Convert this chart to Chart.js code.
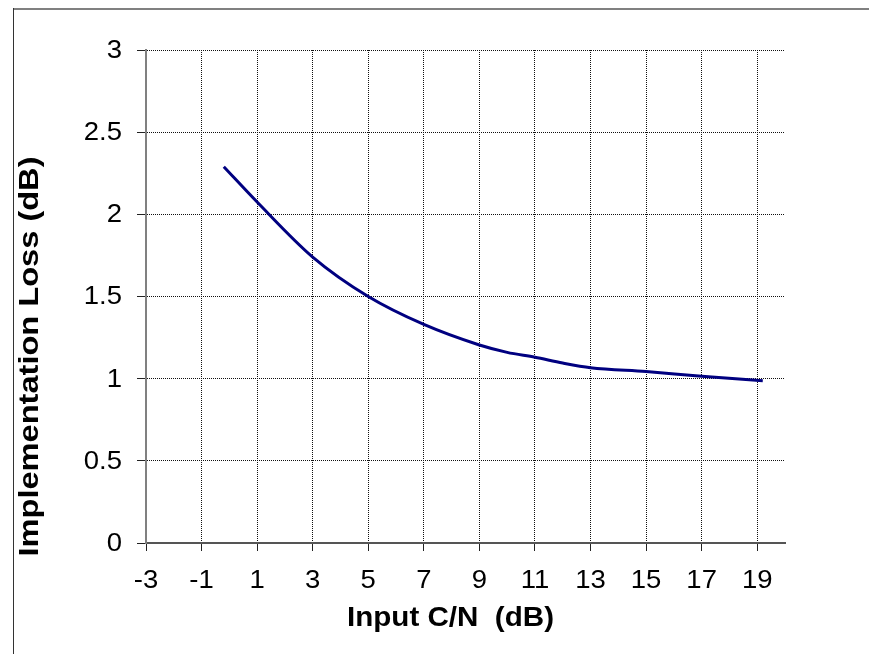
<!DOCTYPE html>
<html>
<head>
<meta charset="utf-8">
<script src="https://cdn.jsdelivr.net/npm/chart.js@4/dist/chart.umd.min.js"></script>
<style>
  html, body { margin: 0; padding: 0; background: #fff; }
  #wrap { position: relative; width: 869px; height: 654px; }
</style>
</head>
<body>
<div id="wrap"><canvas id="chart" width="869" height="654"></canvas></div>
<script>
// Input C/N (dB) vs implementation loss (dB)
const cnValues = [-0.2, 1, 3, 5, 7, 9, 10, 11, 12, 13, 15, 17, 19.2];
const lossValues = [2.29, 2.075, 1.74, 1.5, 1.33, 1.205, 1.16, 1.13, 1.095, 1.067, 1.043, 1.015, 0.988];

// axis ticks
const xTickValues = [-3, -1, 1, 3, 5, 7, 9, 11, 13, 15, 17, 19];
const yTickValues = [0, 0.5, 1, 1.5, 2, 2.5, 3];
const xMin = -3, xMax = 20;
const yMin = 0, yMax = 3;

const xTitle = 'Input C/N  (dB)';
const yTitle = 'Implementation Loss (dB)';

const points = cnValues.map(function(v, i) { return { x: v, y: lossValues[i] }; });

const FONT = '"Liberation Sans", Arial, sans-serif';

// text drawn a bit wider than the font, like the original
function wideText(ctx, text, x, y, sx, angle) {
  ctx.save();
  ctx.translate(x, y);
  if (angle) ctx.rotate(angle);
  ctx.scale(sx, 1);
  ctx.fillText(text, 0, 0);
  ctx.restore();
}

// Frame, tick labels and axis titles
const decorPlugin = {
  id: 'decor',
  beforeDraw: function(chart) {
    const ctx = chart.ctx;
    ctx.save();
    ctx.strokeStyle = '#808080';
    ctx.lineWidth = 2;
    ctx.beginPath();
    ctx.moveTo(13, 9);
    ctx.lineTo(chart.width, 9);
    ctx.stroke();
    ctx.strokeStyle = '#333';
    ctx.lineWidth = 1;
    ctx.beginPath();
    ctx.moveTo(13.5, 8);
    ctx.lineTo(13.5, chart.height);
    ctx.stroke();
    ctx.restore();
  },
  afterDraw: function(chart) {
    const ctx = chart.ctx;
    const area = chart.chartArea;
    const xs = chart.scales.x, ys = chart.scales.y;
    ctx.save();
    ctx.fillStyle = '#000';

    // tick labels
    ctx.font = '25px ' + FONT;
    ctx.textBaseline = 'middle';
    ctx.textAlign = 'right';
    ys.ticks.forEach(function(t) {
      wideText(ctx, String(t.value), area.left - 24, ys.getPixelForValue(t.value) + 1, 1.1);
    });
    ctx.textAlign = 'center';
    xs.ticks.forEach(function(t) {
      wideText(ctx, String(t.value), xs.getPixelForValue(t.value), area.bottom + 38, 1.1);
    });

    // axis titles
    ctx.font = 'bold 27px ' + FONT;
    const xsx = 207 / ctx.measureText(xTitle).width;
    wideText(ctx, xTitle, (area.left + area.right) / 2 - 15, area.bottom + 76, xsx);
    const ysx = 400 / ctx.measureText(yTitle).width;
    wideText(ctx, yTitle, area.left - 115, (area.top + area.bottom) / 2 + 60, ysx, -Math.PI / 2);
    ctx.restore();
  }
};

const ctx = document.getElementById('chart').getContext('2d');
new Chart(ctx, {
  type: 'line',
  data: {
    datasets: [{
      data: points,
      borderColor: '#000080',
      borderWidth: 3,
      pointRadius: 0,
      fill: false,
      cubicInterpolationMode: 'monotone'
    }]
  },
  options: {
    responsive: false,
    animation: false,
    layout: { padding: { left: 0, top: 50, right: 84, bottom: 0 } },
    plugins: { legend: { display: false }, tooltip: { enabled: false } },
    scales: {
      x: {
        type: 'linear',
        min: xMin,
        max: xMax,
        afterFit: function(scale) { scale.height = 111; },
        afterBuildTicks: function(scale) {
          scale.ticks = xTickValues.map(function(v) { return { value: v }; });
        },
        ticks: { display: false },
        grid: { color: '#111', tickColor: '#222', tickLength: 8, lineWidth: 1 },
        border: { display: true, color: '#555', width: 2, dash: [1, 1] }
      },
      y: {
        min: yMin,
        max: yMax,
        afterFit: function(scale) { scale.width = 146; },
        afterBuildTicks: function(scale) {
          scale.ticks = yTickValues.map(function(v) { return { value: v }; });
        },
        ticks: { display: false },
        grid: { color: '#111', tickColor: '#222', tickLength: 9, lineWidth: 1 },
        border: { display: true, color: '#808080', width: 2, dash: [1, 1] }
      }
    }
  },
  plugins: [decorPlugin]
});
</script>
</body>
</html>
